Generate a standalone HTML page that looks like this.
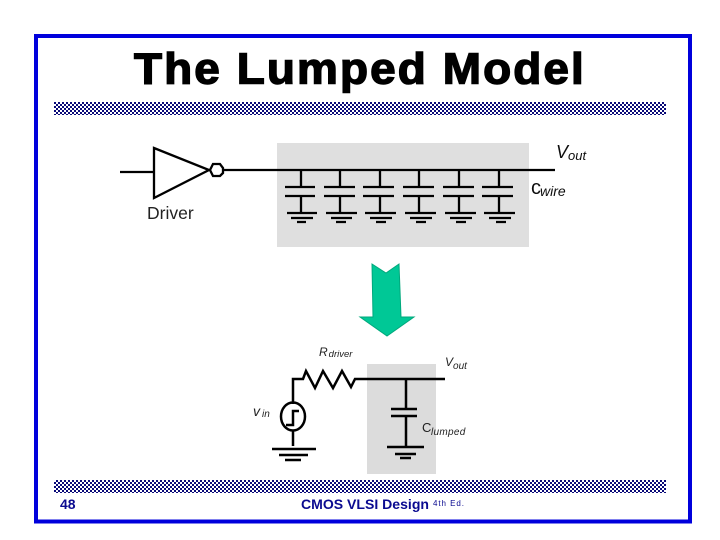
<!DOCTYPE html>
<html>
<head>
<meta charset="utf-8">
<title>The Lumped Model</title>
<style>
html,body{margin:0;padding:0;background:#fff}
svg{display:block}
text{font-family:"Liberation Sans",Arial,sans-serif}
</style>
</head>
<body>
<svg width="720" height="540" viewBox="0 0 720 540" xmlns="http://www.w3.org/2000/svg">
<defs>
<pattern id="chk" width="4" height="4" patternUnits="userSpaceOnUse" x="54" y="102">
<rect width="4" height="4" fill="#fff"/>
<rect width="2" height="2" fill="#0a0a78"/>
<rect x="2" y="2" width="2" height="2" fill="#0a0a78"/>
</pattern>
<filter id="soft" x="-5%" y="-5%" width="110%" height="110%"><feGaussianBlur stdDeviation="0.35"/></filter>
</defs>
<rect width="720" height="540" fill="#fff"/>
<rect x="36" y="36" width="654" height="485.5" fill="none" stroke="#0000dc" stroke-width="4"/>
<text transform="translate(134 83.5) scale(1.044 1)" x="0" y="0" font-size="44" font-weight="bold" letter-spacing="2" fill="#000" stroke="#000" stroke-width="1.4">The Lumped Model</text>
<rect x="54" y="102" width="612" height="13" fill="url(#chk)"/>
<rect x="54" y="480" width="612" height="13" fill="url(#chk)"/>

<rect x="277" y="143" width="252" height="104" fill="#dfdfdf"/>
<g filter="url(#soft)">
<g stroke="#000" fill="none" stroke-width="2.3">
<path d="M120 172H154"/>
<path d="M154 148V198L209 170Z" fill="#fff"/>
<path d="M210 170L213 164H220L223 168V173L220 176H213Z" fill="#fff"/>
<path d="M223 170H555"/>
<path d="M301 170V187M285 187H315M285 196H315M301 196V213M287 213H317M291 218H313M297 222H306"/>
<path d="M340 170V187M324 187H355M324 196H355M340 196V213M326 213H357M331 218H352M336 222H346"/>
<path d="M380 170V187M363 187H394M363 196H394M380 196V213M365 213H396M370 218H392M376 222H386"/>
<path d="M419 170V187M403 187H434M403 196H434M419 196V213M405 213H436M410 218H432M416 222H426"/>
<path d="M459 170V187M443 187H474M443 196H474M459 196V213M445 213H476M450 218H472M456 222H466"/>
<path d="M499 170V187M482 187H513M482 196H513M499 196V213M484 213H515M489 218H511M496 222H506"/>
</g>
<text x="147" y="219" font-size="17.5" fill="#222">Driver</text>
<text x="556" y="158" font-size="18" font-style="italic" fill="#111">V<tspan font-size="13" dy="2">out</tspan></text>
<text x="531" y="194" font-size="20" fill="#111">c<tspan font-size="14" font-style="italic" dy="2" dx="-1">wire</tspan></text>
</g>

<path d="M372 264L386 273L399 264L401 317H414L387 336L360 317H373Z" fill="#00c896" stroke="#00a87c" stroke-width="1"/>

<rect x="367" y="364" width="69" height="110" fill="#dcdcdc"/>
<g filter="url(#soft)">
<g stroke="#000" fill="none" stroke-width="2.5">
<path d="M293 404V379H303L306 371L315 388L323 371L333 388L342 371L351 387L355 379H445"/>
<ellipse cx="293" cy="416.5" rx="12" ry="14"/>
<path d="M286 425H293V411H299"/>
<path d="M293 431V446M272 449H316M279 455H308M285 460H301"/>
<path d="M406 379V409M391 409H417M391 416H417M406 416V447M387 447H424M395 454H416M400 458H411"/>
</g>
<text x="319" y="356" font-size="12" font-style="italic" fill="#222">R<tspan font-size="9.5" dy="1" dx="1">driver</tspan></text>
<text x="445" y="366" font-size="12" font-style="italic" fill="#222">V<tspan font-size="10" dy="3">out</tspan></text>
<text x="253" y="416" font-size="14" font-style="italic" fill="#222">v<tspan font-size="10" dx="2" dy="1">in</tspan></text>
<text x="422" y="432" font-size="13" fill="#222">C</text>
<text x="431" y="435" font-size="10" font-style="italic" fill="#222" letter-spacing="0.3">lumped</text>
</g>

<text x="60" y="509" font-size="14" font-weight="bold" fill="#0a0a90">48</text>
<text x="301" y="509" font-size="14" font-weight="bold" fill="#0a0a90" textLength="128" lengthAdjust="spacingAndGlyphs">CMOS VLSI Design</text>
<text x="433" y="506" font-size="8" fill="#0a0a90" textLength="31">4th Ed.</text>
</svg>
</body>
</html>
